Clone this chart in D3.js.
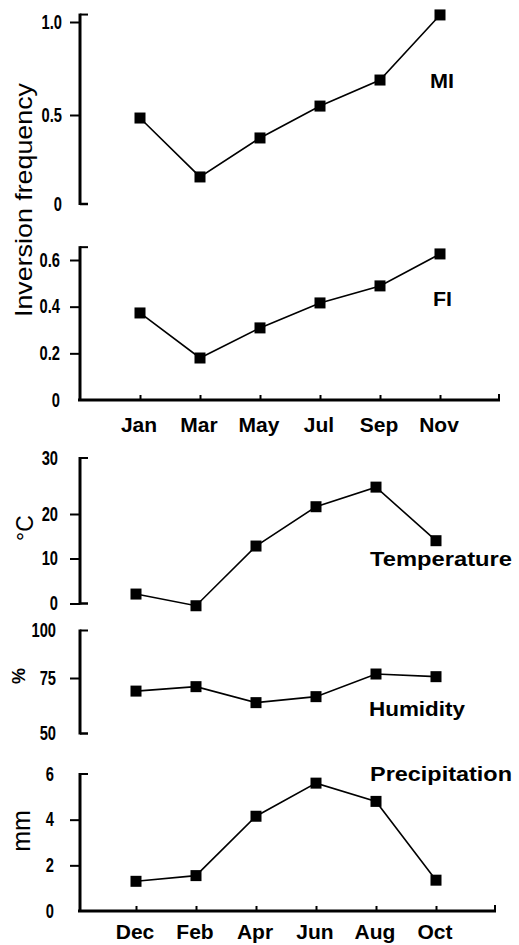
<!DOCTYPE html>
<html>
<head>
<meta charset="utf-8">
<script src="https://cdn.jsdelivr.net/npm/d3@7"></script>
<style>
  html, body { margin: 0; padding: 0; background: #fff; }
  svg { display: block; }
  .tick-lab { font-family: "Liberation Sans", Arial, Helvetica, sans-serif; font-weight: bold; font-size: 21px; }
  .month { font-family: "Liberation Sans", Arial, Helvetica, sans-serif; font-weight: bold; font-size: 21px; }
  .series { font-family: "Liberation Sans", Arial, Helvetica, sans-serif; font-weight: bold; font-size: 20px; }
  .unit { font-family: "Liberation Sans", Arial, Helvetica, sans-serif; }
</style>
</head>
<body>
<svg id="chart" width="519" height="945"></svg>
<script>
// ---------------- data ----------------
const upperMonths = ["Jan", "Mar", "May", "Jul", "Sep", "Nov"];
const lowerMonths = ["Dec", "Feb", "Apr", "Jun", "Aug", "Oct"];

const miValues   = [0.483, 0.152, 0.371, 0.548, 0.688, 1.038];
const fiValues   = [0.373, 0.18, 0.309, 0.416, 0.489, 0.626];
const tempValues = [2.1, -0.5, 12.8, 21.3, 24.8, 14.0];
const humValues  = [69.1, 71.1, 63.9, 66.6, 77.1, 75.7];
const precValues = [1.3, 1.55, 4.15, 5.6, 4.8, 1.35];

const miTicks   = ["0", "0.5", "1.0"];
const fiTicks   = ["0", "0.2", "0.4", "0.6"];
const tempTicks = ["0", "10", "20", "30"];
const humTicks  = ["50", "75", "100"];
const precTicks = ["0", "2", "4", "6"];

// ---------------- layout ----------------
const svg = d3.select("#chart");
svg.append("rect").attr("width", 519).attr("height", 945).attr("fill", "#fff");

const axisX = 80;
const xUpper = d3.scalePoint().domain(upperMonths).range([140, 440]);
const xLower = d3.scalePoint().domain(lowerMonths).range([136, 436]);

const panels = [
  { name: "MI", months: upperMonths, x: xUpper, values: miValues, ticks: miTicks,
    y: d3.scaleLinear().domain([0, 0.5, 1.0]).range([204, 115, 22]),
    top: 1.04, leftTicks: [0.5, 1.0], xAxis: false, labPad: 18, capBottom: true, monthOff: 32 },
  { name: "FI", months: upperMonths, x: xUpper, values: fiValues, ticks: fiTicks,
    y: d3.scaleLinear().domain([0, 0.6]).range([400, 260]),
    top: 0.655, leftTicks: [0.2, 0.4, 0.6], xAxis: true, labPad: 20, capBottom: false, monthOff: 32 },
  { name: "Temp", months: lowerMonths, x: xLower, values: tempValues, ticks: tempTicks,
    y: d3.scaleLinear().domain([0, 10, 20, 30]).range([603.5, 558.5, 514, 458]),
    top: 30, leftTicks: [0, 10, 20], xAxis: false, labPad: 22, capBottom: true, monthOff: 29 },
  { name: "Hum", months: lowerMonths, x: xLower, values: humValues, ticks: humTicks,
    y: d3.scaleLinear().domain([50, 75, 100]).range([733.5, 678, 630.5]),
    top: 100, leftTicks: [75], xAxis: false, labPad: 24, capBottom: true, monthOff: 29 },
  { name: "Prec", months: lowerMonths, x: xLower, values: precValues, ticks: precTicks,
    y: d3.scaleLinear().domain([0, 6]).range([911, 774]),
    top: 6, leftTicks: [2, 4], xAxis: true, labPad: 26, capBottom: false, monthOff: 28 }
];

panels.forEach(p => {
  const g = svg.append("g");
  const y = p.y;
  const bottomVal = y.domain()[0];

  // y axis (ticks + labels)
  const ax = d3.axisLeft(y)
    .tickValues(p.ticks.map(Number))
    .tickFormat((d, i) => p.ticks[i])
    .tickSize(10)
    .tickPadding(p.labPad - 10);
  const ag = g.append("g").attr("transform", `translate(${axisX},0)`).call(ax);
  ag.select(".domain").remove();
  ag.selectAll(".tick line")
    .attr("stroke", "#000").attr("stroke-width", 2)
    .attr("x2", d => p.leftTicks.includes(d) ? -10 : 0);
  ag.selectAll(".tick text")
    .attr("class", "tick-lab").attr("fill", "#000")
    .attr("dy", "0.3em")
    .each(function () {
      // condensed look
      const w = this.getComputedTextLength();
      d3.select(this).attr("textLength", w * 0.7).attr("lengthAdjust", "spacingAndGlyphs");
    });

  // axis spine
  g.append("line")
    .attr("x1", axisX).attr("x2", axisX)
    .attr("y1", y(p.top) - 1).attr("y2", y(bottomVal) + 1)
    .attr("stroke", "#000").attr("stroke-width", 3);
  // top cap
  g.append("line")
    .attr("x1", axisX).attr("x2", axisX + 8)
    .attr("y1", y(p.top)).attr("y2", y(p.top))
    .attr("stroke", "#000").attr("stroke-width", 2);
  if (p.capBottom) {
    g.append("line")
      .attr("x1", axisX).attr("x2", axisX + 8)
      .attr("y1", y(bottomVal)).attr("y2", y(bottomVal))
      .attr("stroke", "#000").attr("stroke-width", 2.5);
  }

  if (p.xAxis) {
    const x = p.x;
    const endX = x(p.months[p.months.length - 1]) + x.step();
    g.append("line")
      .attr("x1", axisX - 2).attr("x2", endX)
      .attr("y1", y(bottomVal)).attr("y2", y(bottomVal))
      .attr("stroke", "#000").attr("stroke-width", 3);
    const xa = d3.axisBottom(x).tickSize(-5).tickPadding(0).tickFormat("");
    const xg = g.append("g").attr("transform", `translate(0,${y(bottomVal)})`).call(xa);
    xg.select(".domain").remove();
    xg.selectAll(".tick line").attr("stroke", "#000").attr("stroke-width", 2);
    // end tick
    g.append("line")
      .attr("x1", endX - 1).attr("x2", endX - 1)
      .attr("y1", y(bottomVal)).attr("y2", y(bottomVal) - 6)
      .attr("stroke", "#000").attr("stroke-width", 2);
    // month labels
    g.selectAll(".month").data(p.months).enter().append("text")
      .attr("class", "month")
      .attr("x", d => x(d) - 1)
      .attr("y", y(bottomVal) + p.monthOff)
      .attr("text-anchor", "middle")
      .attr("fill", "#000")
      .text(d => d);
  }

  // series line
  const line = d3.line()
    .x((d, i) => p.x(p.months[i]))
    .y(d => y(d));
  g.append("path")
    .datum(p.values)
    .attr("d", line)
    .attr("fill", "none")
    .attr("stroke", "#000")
    .attr("stroke-width", 1.6);
  // markers
  const ms = 11;
  g.selectAll(".mk").data(p.values).enter().append("rect")
    .attr("x", (d, i) => p.x(p.months[i]) - ms / 2)
    .attr("y", d => y(d) - ms / 2)
    .attr("width", ms).attr("height", ms)
    .attr("fill", "#000");
});

// series labels
function seriesLabel(txt, x, y, len) {
  const t = svg.append("text").attr("class", "series")
    .attr("x", x).attr("y", y).attr("fill", "#000").text(txt);
  if (len) t.attr("textLength", len).attr("lengthAdjust", "spacingAndGlyphs");
}
seriesLabel("MI", 430, 88, 24);
seriesLabel("FI", 433, 306, 19);
seriesLabel("Temperature", 370, 566, 142);
seriesLabel("Humidity", 369, 716, 96);
seriesLabel("Precipitation", 370, 781, 142);

// rotated unit labels
function unitLabel(txt, x, y, size, weight, len) {
  const t = svg.append("text").attr("class", "unit")
    .attr("transform", `translate(${x},${y}) rotate(-90)`)
    .attr("text-anchor", "middle")
    .attr("font-size", size)
    .attr("font-weight", weight)
    .attr("fill", "#000")
    .text(txt);
  if (len) t.attr("textLength", len).attr("lengthAdjust", "spacingAndGlyphs");
}
unitLabel("Inversion frequency", 32, 200, 24, "normal", 234);
unitLabel("°C", 33, 528, 23, "normal");
unitLabel("%", 25, 676, 18, "bold");
unitLabel("mm", 30, 831, 25, "normal");
</script>
</body>
</html>
